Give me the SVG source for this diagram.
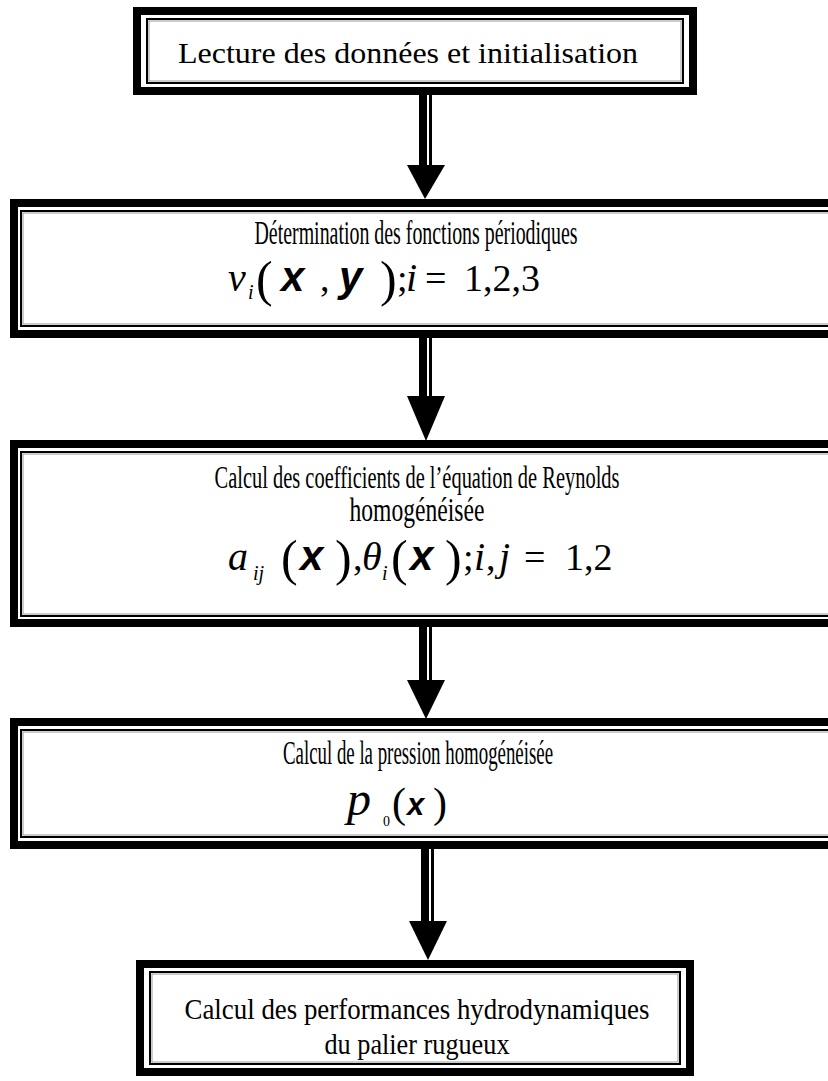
<svg xmlns="http://www.w3.org/2000/svg" width="828" height="1081" viewBox="0 0 828 1081">
<defs>
<style>
.outer{fill:#fff;stroke:#000;stroke-width:8}
.inner{fill:none;stroke:#000;stroke-width:2}
.innerg{fill:none;stroke:#999;stroke-width:1}
.t{font-family:"Liberation Serif","Times New Roman",serif;font-size:30px;fill:#000;text-anchor:middle}
.tc{font-family:"Liberation Serif","Times New Roman",serif;font-size:33px;fill:#000;text-anchor:middle}
.f{font-family:"Liberation Serif","Times New Roman",serif;font-size:38px;fill:#000}
.mi{font-style:italic;font-size:40px}
.sub{font-style:italic;font-size:20px}
.par{font-size:50px}
.bx{font-family:"Liberation Sans",Arial,sans-serif;font-size:42px;font-weight:bold;font-style:italic}
.shaft{fill:#000}
</style>
</defs>
<rect width="828" height="1081" fill="#fff"/>

<g id="connectors">
  <g id="arrow1"><rect class="shaft" x="419" y="95" width="8" height="72"/><rect class="shaft" x="429" y="95" width="3" height="72"/><polygon points="407,165 445,165 425,199"/></g>
  <g id="arrow2"><rect class="shaft" x="419" y="338" width="8" height="60"/><rect class="shaft" x="429" y="338" width="3" height="60"/><polygon points="407,396 445,396 426,441"/></g>
  <g id="arrow3"><rect class="shaft" x="419" y="627" width="8" height="56"/><rect class="shaft" x="429" y="627" width="3" height="56"/><polygon points="407,680 445,680 426,719"/></g>
  <g id="arrow4"><rect class="shaft" x="421" y="848" width="8" height="75"/><rect class="shaft" x="431" y="848" width="3" height="75"/><polygon points="409,921 447,921 428,960"/></g>
</g>

<g id="node1">
  <rect class="outer" x="137" y="11" width="556" height="80"/>
  <rect class="inner" x="147" y="19" width="536" height="64"/>
  <rect class="innerg" x="149" y="21" width="532" height="60"/>
  <text class="t" x="408" y="63" textLength="460" lengthAdjust="spacingAndGlyphs">Lecture des données et initialisation</text>
</g>

<g id="node2">
  <rect class="outer" x="14" y="203" width="830" height="131"/>
  <rect class="inner" x="21" y="211" width="820" height="115"/>
  <rect class="innerg" x="23" y="213" width="816" height="111"/>
  <text class="tc" x="416" y="244" textLength="323" lengthAdjust="spacingAndGlyphs">Détermination des fonctions périodiques</text>
  <text class="f" y="291"><tspan class="mi" x="228">v</tspan><tspan class="sub" x="248" y="299">i</tspan><tspan class="par" x="256" y="296">(</tspan><tspan class="bx" x="281" y="291">x</tspan><tspan x="320">,</tspan><tspan class="bx" x="339">y</tspan><tspan class="par" x="380" y="296">)</tspan><tspan x="397" y="291">;</tspan><tspan class="mi" x="406">i</tspan><tspan x="425">=</tspan><tspan x="464">1,2,3</tspan></text>
</g>

<g id="node3">
  <rect class="outer" x="14" y="444" width="830" height="179"/>
  <rect class="inner" x="21" y="452" width="820" height="164"/>
  <rect class="innerg" x="23" y="454" width="816" height="160"/>
  <text class="tc" x="417" y="488" style="font-size:31px" textLength="405" lengthAdjust="spacingAndGlyphs">Calcul des coefficients de l’équation de Reynolds</text>
  <text class="tc" x="417" y="521" textLength="135" lengthAdjust="spacingAndGlyphs">homogénéisée</text>
  <text class="f" y="570"><tspan class="mi" x="228">a</tspan><tspan class="sub" x="253" y="580">ij</tspan><tspan class="par" x="281" y="575">(</tspan><tspan class="bx" x="300" y="570">x</tspan><tspan class="par" x="335" y="575">)</tspan><tspan x="353" y="570">,</tspan><tspan class="mi" x="362">θ</tspan><tspan class="sub" x="382" y="580">i</tspan><tspan class="par" x="391" y="575">(</tspan><tspan class="bx" x="410" y="570">x</tspan><tspan class="par" x="445" y="575">)</tspan><tspan x="463" y="570">;</tspan><tspan class="mi" x="474">i</tspan><tspan x="486">,</tspan><tspan class="mi" x="499">j</tspan><tspan x="524">=</tspan><tspan x="565">1,2</tspan></text>
</g>

<g id="node4">
  <rect class="outer" x="14" y="722" width="830" height="123"/>
  <rect class="inner" x="21" y="730" width="820" height="107"/>
  <rect class="innerg" x="23" y="732" width="816" height="103"/>
  <text class="tc" x="418" y="764" textLength="270" lengthAdjust="spacingAndGlyphs">Calcul de la pression homogénéisée</text>
  <text class="f" y="815"><tspan class="mi" x="347" style="font-size:48px">p</tspan><tspan x="383" y="826" style="font-size:14px">0</tspan><tspan x="392" y="817" style="font-size:42px">(</tspan><tspan class="bx" x="407" y="815" style="font-size:31px">x</tspan><tspan x="433" y="817" style="font-size:42px">)</tspan></text>
</g>

<g id="node5">
  <rect class="outer" x="140" y="964" width="550" height="108"/>
  <rect class="inner" x="150" y="972" width="530" height="92"/>
  <rect class="innerg" x="152" y="974" width="526" height="88"/>
  <text class="t" x="417" y="1019" textLength="465" lengthAdjust="spacingAndGlyphs">Calcul des performances hydrodynamiques</text>
  <text class="t" x="417" y="1054" textLength="185" lengthAdjust="spacingAndGlyphs">du palier rugueux</text>
</g>
</svg>
